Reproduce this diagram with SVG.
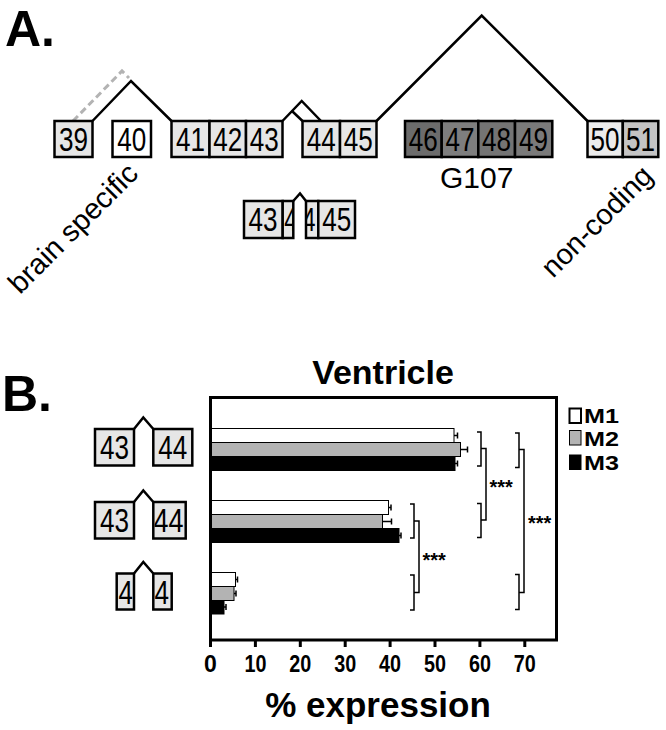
<svg xmlns="http://www.w3.org/2000/svg" width="666" height="730" viewBox="0 0 666 730">
<style>
text{font-family:"Liberation Sans",Arial,sans-serif;fill:#000}
.ex{stroke:#000;stroke-width:2.5}
.lt{fill:#e6e6e6}
.num{font-size:33px;text-anchor:middle}
.one{font-size:33px}
.jn{fill:none;stroke:#000;stroke-width:2.5;stroke-linejoin:miter}
.br{fill:none;stroke:#000;stroke-width:1.5}
.bar{stroke:#000;stroke-width:1}
.err{fill:none;stroke:#000;stroke-width:1.5}
.tick{font-size:23px;font-weight:bold;text-anchor:middle}
.star{font-size:20px;font-weight:bold}
.leg{font-size:20px;font-weight:bold}
.big{font-size:50px;font-weight:bold}
</style>
<defs>
<clipPath id="cA4a"><rect x="283.5" y="202" width="9" height="35"/></clipPath>
<clipPath id="cA4b"><rect x="306.5" y="202" width="11" height="35"/></clipPath>
<clipPath id="cB2"><rect x="154.5" y="503" width="30" height="34"/></clipPath>
<clipPath id="cB3a"><rect x="117.8" y="574.5" width="15" height="34"/></clipPath>
<clipPath id="cB3b"><rect x="154.5" y="574.5" width="16" height="34"/></clipPath>
</defs>
<rect width="666" height="730" fill="#fff"/>

<text class="big" x="5" y="46">A.</text>
<text class="big" x="2" y="411">B.</text>

<g id="connectors">
<path d="M73,121 L122,71 L129,78" fill="none" stroke="#b3b3b3" stroke-width="3" stroke-dasharray="7 4"/>
<polyline class="jn" points="92.5,121 131,81 171.5,121"/>
<polyline class="jn" points="282.5,121 301.7,101 321,121"/>
<line class="jn" x1="292" y1="111" x2="302.5" y2="121"/>
<polyline class="jn" points="376.5,121 481.7,15.5 587.5,121"/>
<polyline class="jn" points="293.3,201 300,193.5 306,201"/>
<polyline class="jn" points="134,429 143.3,417.5 153.3,429"/>
<polyline class="jn" points="134,502 143.3,490.5 153.3,502"/>
<polyline class="jn" points="134,573.5 143.3,562 153.3,573.5"/>
</g>

<g id="exon39"><rect class="ex lt" x="54.5" y="121" width="38" height="36"/><text class="num" x="73.5" y="151" textLength="29" lengthAdjust="spacingAndGlyphs">39</text></g>
<g id="exon40"><rect class="ex" fill="#fff" x="112.5" y="121" width="38.5" height="36"/><text class="num" x="131.7" y="151" textLength="29" lengthAdjust="spacingAndGlyphs">40</text></g>
<g id="exon41"><rect class="ex lt" x="171.5" y="121" width="38" height="36"/><text class="num" x="190.5" y="151" textLength="29" lengthAdjust="spacingAndGlyphs">41</text></g>
<g id="exon42"><rect class="ex lt" x="209.5" y="121" width="36.5" height="36"/><text class="num" x="227.7" y="151" textLength="29" lengthAdjust="spacingAndGlyphs">42</text></g>
<g id="exon43"><rect class="ex lt" x="246" y="121" width="36.5" height="36"/><text class="num" x="264.2" y="151" textLength="29" lengthAdjust="spacingAndGlyphs">43</text></g>
<g id="exon44"><rect class="ex lt" x="302.5" y="121" width="37.5" height="36"/><text class="num" x="321.2" y="151" textLength="29" lengthAdjust="spacingAndGlyphs">44</text></g>
<g id="exon45"><rect class="ex lt" x="340" y="121" width="36.5" height="36"/><text class="num" x="358.2" y="151" textLength="29" lengthAdjust="spacingAndGlyphs">45</text></g>
<g id="exon46"><rect class="ex" fill="#6c6c6c" x="405" y="121" width="36.7" height="36"/><text class="num" x="423.3" y="151" textLength="29" lengthAdjust="spacingAndGlyphs">46</text></g>
<g id="exon47"><rect class="ex" fill="#7e7e7e" x="441.7" y="121" width="36.6" height="36"/><text class="num" x="460" y="151" textLength="29" lengthAdjust="spacingAndGlyphs">47</text></g>
<g id="exon48"><rect class="ex" fill="#747474" x="478.3" y="121" width="36.7" height="36"/><text class="num" x="496.6" y="151" textLength="29" lengthAdjust="spacingAndGlyphs">48</text></g>
<g id="exon49"><rect class="ex" fill="#7a7a7a" x="515" y="121" width="37.3" height="36"/><text class="num" x="533.6" y="151" textLength="29" lengthAdjust="spacingAndGlyphs">49</text></g>
<g id="exon50"><rect class="ex" fill="#ececec" x="587.5" y="121" width="35.3" height="36"/><text class="num" x="605.1" y="151" textLength="29" lengthAdjust="spacingAndGlyphs">50</text></g>
<g id="exon51"><rect class="ex" fill="#c4c4c4" x="622.8" y="121" width="35.5" height="36"/><text class="num" x="640.5" y="151" textLength="29" lengthAdjust="spacingAndGlyphs">51</text></g>

<g id="labels-A">
<text x="476.7" y="187.7" font-size="30" text-anchor="middle">G107</text>
<text font-size="29" transform="translate(20,295) rotate(-45)">brain specific</text>
<text font-size="29" transform="translate(553,279) rotate(-45)">non-coding</text>
</g>

<g id="splice-43-4-4-45">
<rect class="ex lt" x="244" y="201" width="38.7" height="37"/><text class="num" x="263" y="231" textLength="29" lengthAdjust="spacingAndGlyphs">43</text>
<rect class="ex lt" x="282.7" y="201" width="10.6" height="37"/><text class="one" x="284.2" y="231" clip-path="url(#cA4a)" textLength="13" lengthAdjust="spacingAndGlyphs">4</text>
<rect class="ex lt" x="306" y="201" width="12.3" height="37"/><text class="one" x="302.5" y="231" clip-path="url(#cA4b)" textLength="13" lengthAdjust="spacingAndGlyphs">4</text>
<rect class="ex lt" x="318.3" y="201" width="36.7" height="37"/><text class="num" x="336.8" y="231" textLength="29" lengthAdjust="spacingAndGlyphs">45</text>
</g>

<g id="icon1">
<rect class="ex lt" x="95" y="429" width="39" height="36.5"/><text class="num" x="114.5" y="459" textLength="29" lengthAdjust="spacingAndGlyphs">43</text>
<rect class="ex lt" x="153.3" y="429" width="39" height="36.5"/><text class="num" x="172.8" y="459" textLength="29" lengthAdjust="spacingAndGlyphs">44</text>
</g>
<g id="icon2">
<rect class="ex lt" x="95" y="502" width="39" height="36.5"/><text class="num" x="114.5" y="532" textLength="29" lengthAdjust="spacingAndGlyphs">43</text>
<rect class="ex lt" x="153.3" y="502" width="32.4" height="36.5"/><text class="one" x="153.5" y="532" clip-path="url(#cB2)" textLength="30" lengthAdjust="spacingAndGlyphs">44</text>
</g>
<g id="icon3">
<rect class="ex lt" x="116.7" y="573.5" width="17.3" height="36"/><text class="one" x="118.5" y="604" clip-path="url(#cB3a)" textLength="14.5" lengthAdjust="spacingAndGlyphs">4</text>
<rect class="ex lt" x="153.3" y="573.5" width="18.4" height="36"/><text class="one" x="154.5" y="604" clip-path="url(#cB3b)" textLength="14.5" lengthAdjust="spacingAndGlyphs">4</text>
</g>

<g id="chart">
<text x="383" y="384" font-size="34" font-weight="bold" text-anchor="middle">Ventricle</text>
<g id="bars">
<rect class="bar" fill="#fff" x="210.5" y="428.5" width="243.5" height="14"/>
<rect class="bar" fill="#b3b3b3" x="210.5" y="442.5" width="250" height="14"/>
<rect class="bar" fill="#000" x="210.5" y="456.5" width="244.5" height="14"/>
<rect class="bar" fill="#fff" x="210.5" y="500.5" width="178" height="14"/>
<rect class="bar" fill="#b3b3b3" x="210.5" y="514.5" width="172" height="14"/>
<rect class="bar" fill="#000" x="210.5" y="528.5" width="188.5" height="14"/>
<rect class="bar" fill="#fff" x="210.5" y="572.5" width="25" height="14"/>
<rect class="bar" fill="#b3b3b3" x="210.5" y="586.5" width="23.5" height="14"/>
<rect class="bar" fill="#000" x="210.5" y="600.5" width="13.5" height="13.5"/>
</g>
<g id="errorbars">
<path class="err" d="M454,435.5 H457.5 M457.5,432.5 V438.5"/>
<path class="err" d="M460.5,449.5 H467.5 M467.5,446.5 V452.5"/>
<path class="err" d="M455,463.5 H457.5 M457.5,460.5 V466.5"/>
<path class="err" d="M388.5,507.5 H391 M391,504.5 V510.5"/>
<path class="err" d="M382.5,521.5 H391.5 M391.5,518.5 V524.5"/>
<path class="err" d="M399,535.5 H401 M401,532.5 V538.5"/>
<path class="err" d="M235.5,579.5 H237.5 M237.5,576.5 V582.5"/>
<path class="err" d="M234,593.5 H236 M236,590.5 V596.5"/>
<path class="err" d="M224,607 H226 M226,604 V610"/>
</g>
<rect x="210.5" y="397.5" width="346" height="242.5" fill="none" stroke="#000" stroke-width="3"/>
<g id="ticks" stroke="#000" stroke-width="3">
<line x1="210.5" y1="640" x2="210.5" y2="647"/>
<line x1="255.4" y1="640" x2="255.4" y2="647"/>
<line x1="300.3" y1="640" x2="300.3" y2="647"/>
<line x1="345.2" y1="640" x2="345.2" y2="647"/>
<line x1="390.1" y1="640" x2="390.1" y2="647"/>
<line x1="435" y1="640" x2="435" y2="647"/>
<line x1="479.9" y1="640" x2="479.9" y2="647"/>
<line x1="524.8" y1="640" x2="524.8" y2="647"/>
</g>
<text class="tick" x="210.5" y="672">0</text>
<text class="tick" x="255.4" y="672" textLength="22" lengthAdjust="spacingAndGlyphs">10</text>
<text class="tick" x="300.3" y="672" textLength="22" lengthAdjust="spacingAndGlyphs">20</text>
<text class="tick" x="345.2" y="672" textLength="22" lengthAdjust="spacingAndGlyphs">30</text>
<text class="tick" x="390.1" y="672" textLength="22" lengthAdjust="spacingAndGlyphs">40</text>
<text class="tick" x="435" y="672" textLength="22" lengthAdjust="spacingAndGlyphs">50</text>
<text class="tick" x="479.9" y="672" textLength="22" lengthAdjust="spacingAndGlyphs">60</text>
<text class="tick" x="524.8" y="672" textLength="22" lengthAdjust="spacingAndGlyphs">70</text>
<text x="378" y="717" font-size="35" font-weight="bold" text-anchor="middle">% expression</text>
<g id="significance">
<path class="br" d="M410,504 H414 V538 H410 M414,521 H419 V592.5 H414 M410,575 H414 V610 H410"/>
<path class="br" d="M477,432 H481 V466 H477 M481,448.5 H486 V520 H481 M477,503.5 H481 V537.5 H477"/>
<path class="br" d="M515,433 H519 V467.5 H515 M519,449.5 H524 V592.5 H519 M515,574.5 H519 V609.5 H515"/>
<text class="star" x="422.5" y="567">***</text>
<text class="star" x="489.5" y="493.5">***</text>
<text class="star" x="528" y="529.5">***</text>
</g>
<g id="legend">
<rect x="569.5" y="408.5" width="11.5" height="14.5" fill="#fff" stroke="#000" stroke-width="2"/>
<rect x="569.5" y="430.5" width="11.5" height="14.5" fill="#b3b3b3" stroke="#000" stroke-width="1"/>
<rect x="569.5" y="455" width="11.5" height="14.5" fill="#000" stroke="#000" stroke-width="1"/>
<text class="leg" x="584" y="423" textLength="35" lengthAdjust="spacingAndGlyphs">M1</text>
<text class="leg" x="584" y="446" textLength="35" lengthAdjust="spacingAndGlyphs">M2</text>
<text class="leg" x="584" y="470" textLength="35" lengthAdjust="spacingAndGlyphs">M3</text>
</g>
</g>
</svg>
